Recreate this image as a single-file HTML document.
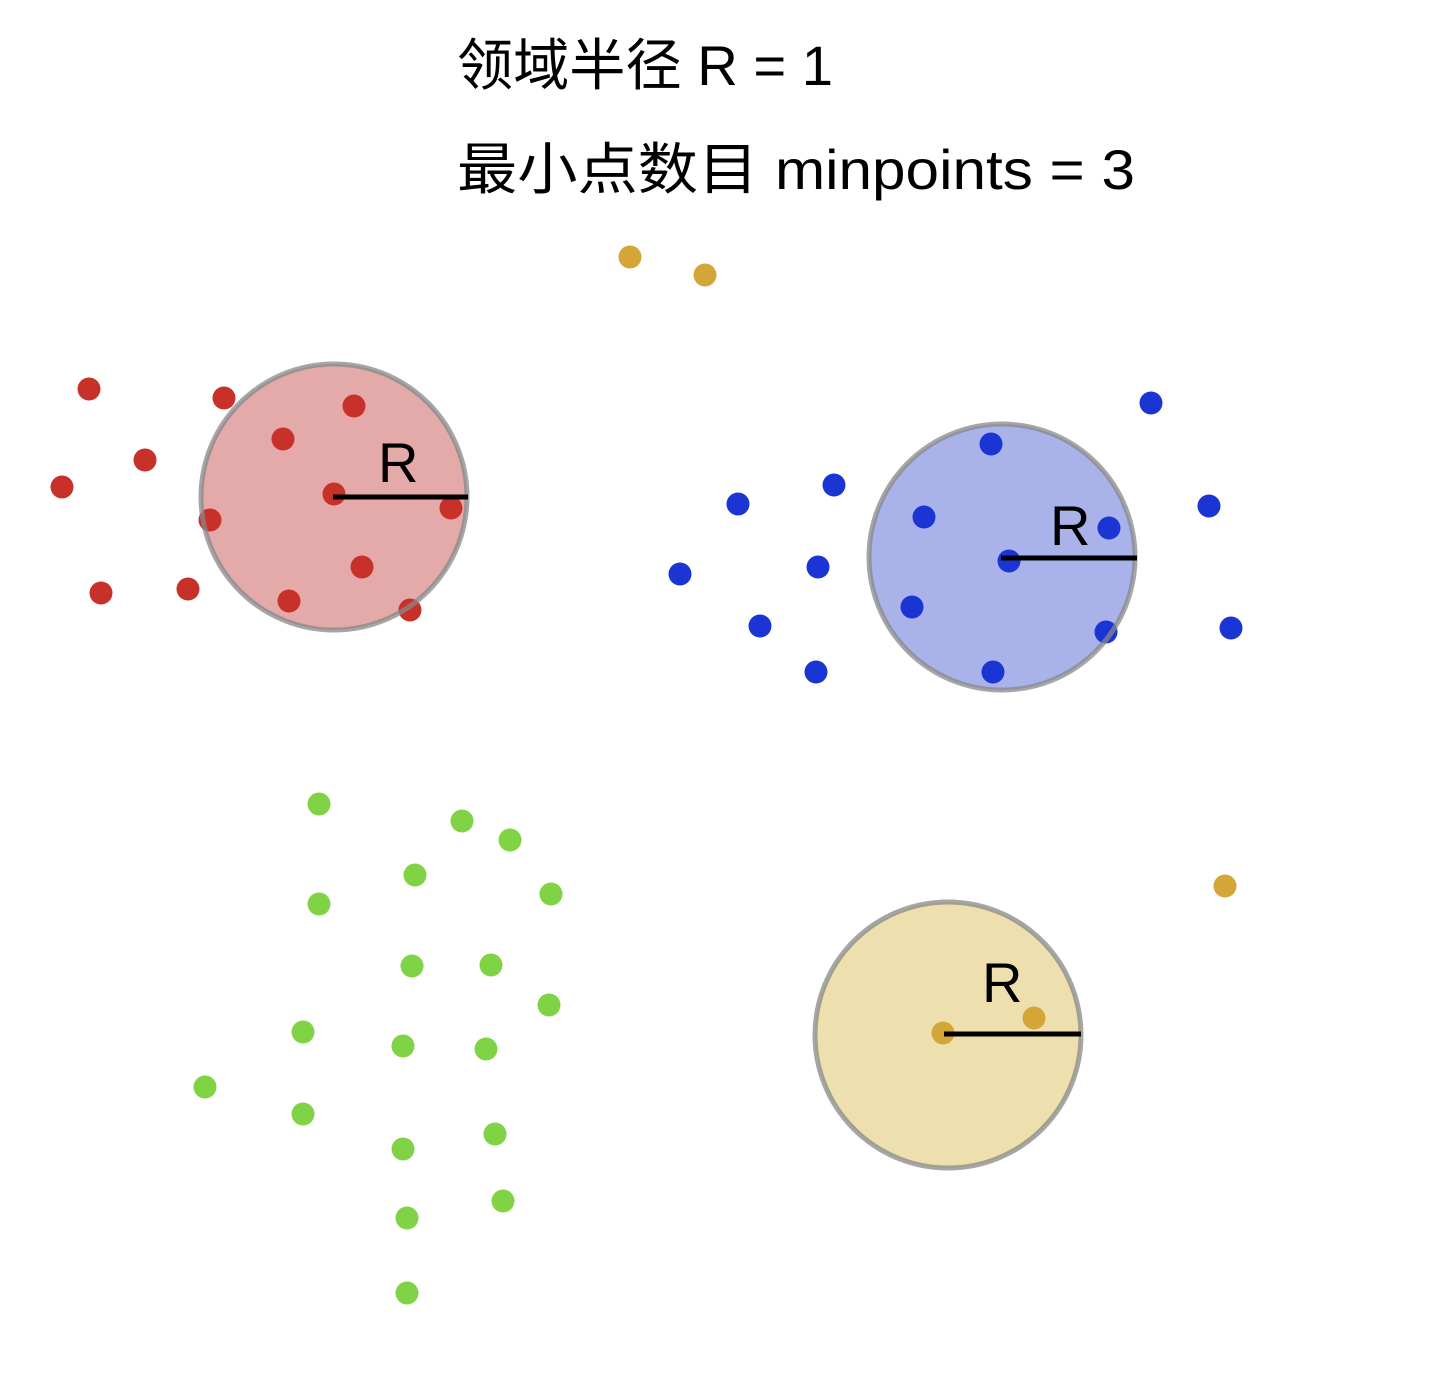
<!DOCTYPE html>
<html><head><meta charset="utf-8"><style>body{margin:0;background:#fff}svg{display:block}</style></head><body>
<svg width="1444" height="1384" viewBox="0 0 1444 1384" xmlns="http://www.w3.org/2000/svg">
<rect width="1444" height="1384" fill="#fff"/>
<g font-family="'Liberation Sans','Noto Sans CJK SC',sans-serif" fill="#000">
<text x="457" y="85" font-size="56" textLength="376" lengthAdjust="spacingAndGlyphs">领域半径 R = 1</text>
<text x="457" y="189" font-size="56" textLength="678" lengthAdjust="spacingAndGlyphs">最小点数目 minpoints = 3</text>
</g>
<circle cx="334" cy="497" r="133" fill="#e4a9a9"/>
<circle cx="1002" cy="557" r="133" fill="#a9b3ea"/>
<circle cx="948" cy="1035" r="133" fill="#eddfae"/>
<g fill="#c8302a">
<circle cx="89" cy="389" r="11.5"/><circle cx="224" cy="398" r="11.5"/><circle cx="354" cy="406" r="11.5"/><circle cx="283" cy="439" r="11.5"/><circle cx="145" cy="460" r="11.5"/><circle cx="62" cy="487" r="11.5"/><circle cx="334" cy="494" r="11.5"/><circle cx="451" cy="508" r="11.5"/><circle cx="210" cy="520" r="11.5"/><circle cx="362" cy="567" r="11.5"/><circle cx="101" cy="593" r="11.5"/><circle cx="188" cy="589" r="11.5"/><circle cx="289" cy="601" r="11.5"/><circle cx="410" cy="610" r="11.5"/>
</g>
<g fill="#d4a637">
<circle cx="630" cy="257" r="11.5"/><circle cx="705" cy="275" r="11.5"/><circle cx="1225" cy="886" r="11.5"/><circle cx="943" cy="1033" r="11.5"/><circle cx="1034" cy="1018" r="11.5"/>
</g>
<g fill="#1a35d4">
<circle cx="1151" cy="403" r="11.5"/><circle cx="991" cy="444" r="11.5"/><circle cx="834" cy="485" r="11.5"/><circle cx="738" cy="504" r="11.5"/><circle cx="924" cy="517" r="11.5"/><circle cx="1109" cy="528" r="11.5"/><circle cx="1209" cy="506" r="11.5"/><circle cx="1009" cy="561" r="11.5"/><circle cx="818" cy="567" r="11.5"/><circle cx="680" cy="574" r="11.5"/><circle cx="912" cy="607" r="11.5"/><circle cx="760" cy="626" r="11.5"/><circle cx="1106" cy="632" r="11.5"/><circle cx="1231" cy="628" r="11.5"/><circle cx="816" cy="672" r="11.5"/><circle cx="993" cy="672" r="11.5"/>
</g>
<g fill="#7fd344">
<circle cx="319" cy="804" r="11.5"/><circle cx="462" cy="821" r="11.5"/><circle cx="510" cy="840" r="11.5"/><circle cx="415" cy="875" r="11.5"/><circle cx="319" cy="904" r="11.5"/><circle cx="551" cy="894" r="11.5"/><circle cx="412" cy="966" r="11.5"/><circle cx="491" cy="965" r="11.5"/><circle cx="549" cy="1005" r="11.5"/><circle cx="303" cy="1032" r="11.5"/><circle cx="403" cy="1046" r="11.5"/><circle cx="486" cy="1049" r="11.5"/><circle cx="205" cy="1087" r="11.5"/><circle cx="303" cy="1114" r="11.5"/><circle cx="495" cy="1134" r="11.5"/><circle cx="403" cy="1149" r="11.5"/><circle cx="503" cy="1201" r="11.5"/><circle cx="407" cy="1218" r="11.5"/><circle cx="407" cy="1293" r="11.5"/>
</g>
<g fill="none" stroke="#888" stroke-opacity="0.75" stroke-width="5">
<circle cx="334" cy="497" r="133"/><circle cx="1002" cy="557" r="133"/><circle cx="948" cy="1035" r="133"/>
</g>
<g stroke="#000" stroke-width="5">
<line x1="333" y1="497" x2="468" y2="497"/><line x1="1001" y1="558" x2="1137" y2="558"/><line x1="944" y1="1034" x2="1081" y2="1034"/>
</g>
<g font-family="'Liberation Sans',sans-serif" font-size="56" fill="#000">
<text x="378" y="482">R</text><text x="1050" y="545">R</text><text x="982" y="1002">R</text>
</g>
</svg>
</body></html>
